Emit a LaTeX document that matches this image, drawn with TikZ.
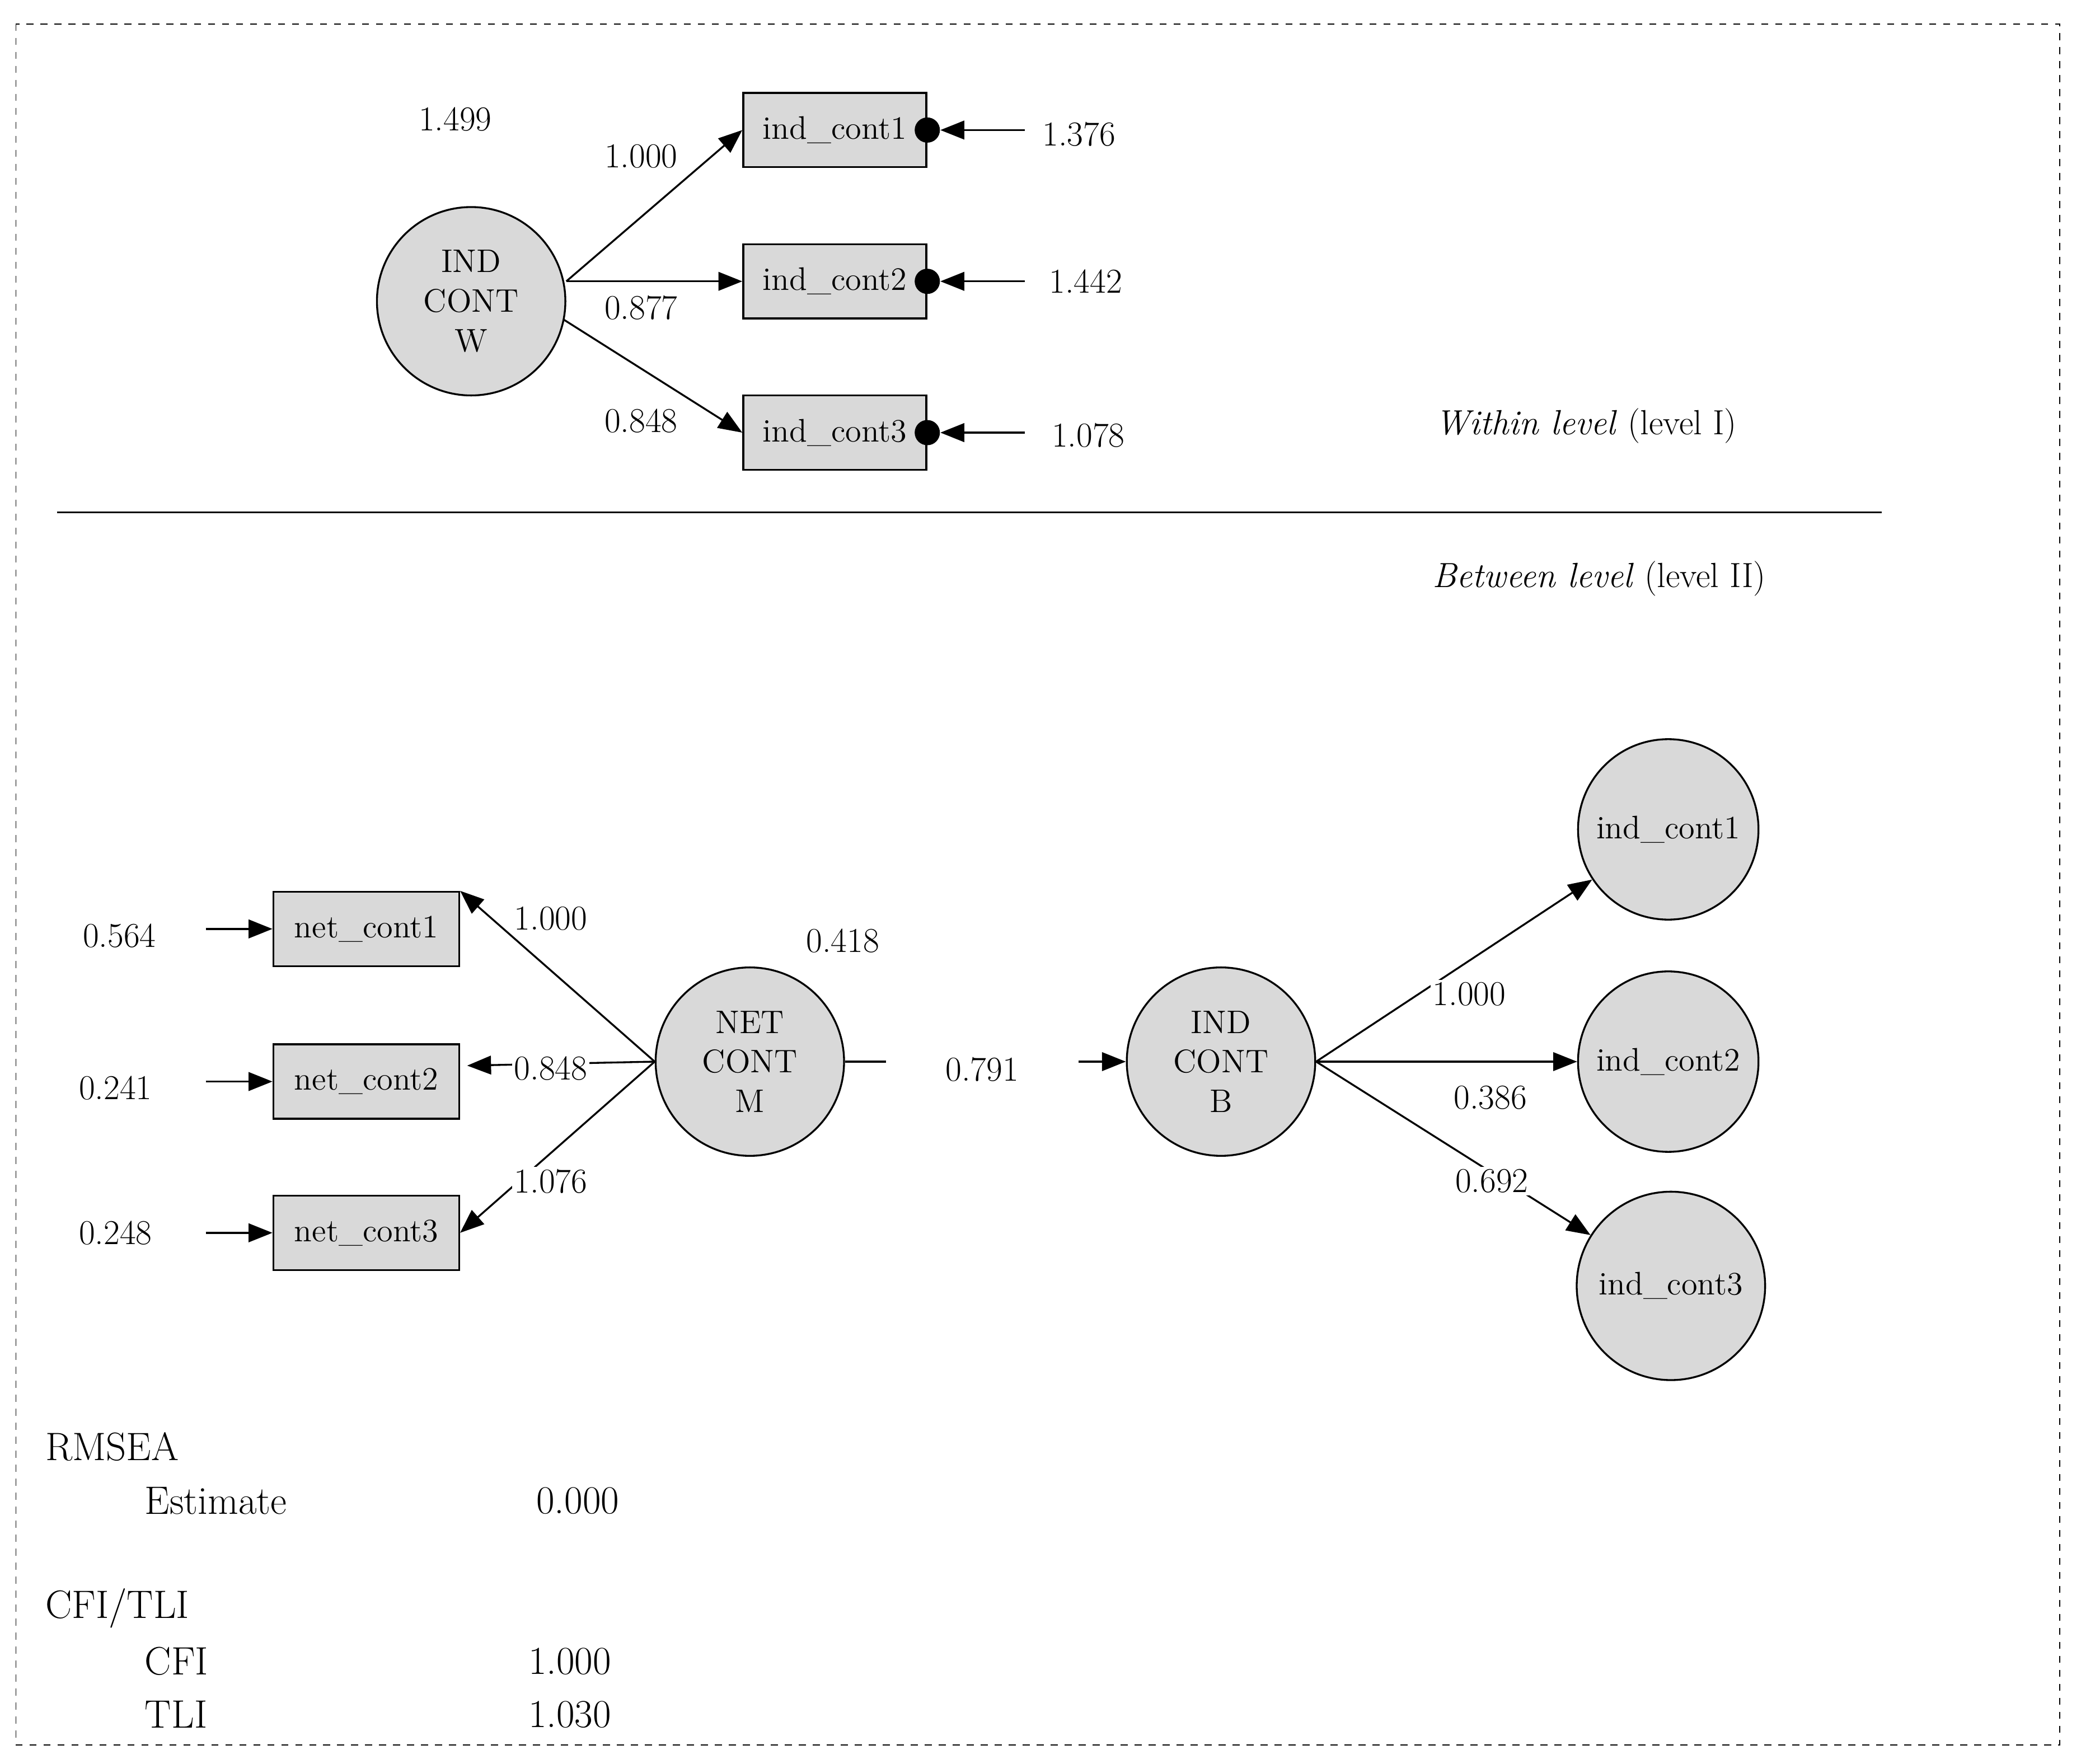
\documentclass[tikz,border=0pt]{standalone}
\usepackage{amsmath}
\usetikzlibrary{arrows.meta, positioning}
\definecolor{boxgray}{HTML}{D9D9D9}
\begin{document}
\begin{tikzpicture}[x=0.02cm,y=-0.02cm,
    lat/.style={draw,thick,circle,fill=boxgray,align=center,minimum size=2.84cm,inner sep=0pt,font=\fontsize{14}{17}\selectfont},
    obs/.style={draw,thick,rectangle,fill=boxgray,minimum width=2.76cm,minimum height=1.12cm,font=\fontsize{14}{17}\selectfont},
    dot/.style={fill,shape=circle,minimum size=0.38cm,inner sep=0pt},
    num/.style={font=\fontsize{15}{18}\selectfont},
    cut/.style={num,fill=white,inner sep=1pt},
    stat/.style={font=\fontsize{17}{20}\selectfont,anchor=west},
    arr/.style={thick,-{Triangle[length=0.36cm,width=0.28cm]}}]
    \useasboundingbox (0,0) rectangle (1568,1329);
    \draw[dashed] (12,18) rectangle (1552,1315);
    % within level
    \node (icw) [lat] at (355,227) {IND\\CONT\\W};
    \node (ic1) [obs] at (629,98) {ind\_cont1};
    \node (ic2) [obs] at (629,212) {ind\_cont2};
    \node (ic3) [obs] at (629,326) {ind\_cont3};
    \node (d1) [dot] at (ic1.east) {};
    \node (d2) [dot] at (ic2.east) {};
    \node (d3) [dot] at (ic3.east) {};
    \coordinate (e1) at (772,98);
    \coordinate (e2) at (772,212);
    \coordinate (e3) at (772,326);
    \draw[arr] (icw.east |- 0,212) -- (ic1.west);
    \draw[arr] (icw.east |- 0,212) -- (ic2.west);
    \draw[arr] (425,241) -- (ic3.west);
    \draw[arr] (e1) -- (d1);
    \draw[arr] (e2) -- (d2);
    \draw[arr] (e3) -- (d3);
    \node[num] at (343,90) {1.499};
    \node[num] at (483,118) {1.000};
    \node[num] at (483,232) {0.877};
    \node[num] at (483,317) {0.848};
    \node[num] at (813,101) {1.376};
    \node[num] at (818,212) {1.442};
    \node[num] at (820,328) {1.078};
    \node[num] at (1195,321) {\textit{Within level} (level I)};
    \coordinate (l1) at (43,386);
    \coordinate (l2) at (1418,386);
    \draw[thick] (l1) -- (l2);
    \node[num] at (1205,436) {\textit{Between level} (level II)};
    % between level
    \node (ncm) [lat] at (565,800) {NET\\CONT\\M};
    \node (icb) [lat] at (920,800) {IND\\CONT\\B};
    \node (nc1) [obs,minimum width=2.8cm] at (276,700) {net\_cont1};
    \node (nc2) [obs,minimum width=2.8cm] at (276,815) {net\_cont2};
    \node (nc3) [obs,minimum width=2.8cm] at (276,929) {net\_cont3};
    \node (bc1) [lat,minimum size=2.72cm] at (1257,625) {ind\_cont1};
    \node (bc2) [lat,minimum size=2.72cm] at (1257,800) {ind\_cont2};
    \node (bc3) [lat] at (1259,969) {ind\_cont3};
    \coordinate (f1) at (155,700);
    \coordinate (f2) at (155,815);
    \coordinate (f3) at (155,929);
    \draw[arr] (f1) -- (nc1);
    \draw[arr] (f2) -- (nc2);
    \draw[arr] (f3) -- (nc3);
    \draw[arr] (ncm.west) -- (nc1.north east);
    \draw[arr] (ncm.west) -- (352,803);
    \draw[arr] (ncm.west) -- (nc3.east);
    \draw[arr] (ncm) -- (icb);
    \draw[arr] (icb.east) -- (bc1);
    \draw[arr] (icb.east) -- (bc2);
    \draw[arr] (icb.east) -- (bc3);
    \node[num] at (90,705) {0.564};
    \node[num] at (87,820) {0.241};
    \node[num] at (87,929) {0.248};
    \node[cut] at (415,692) {1.000};
    \node[cut] at (415,805) {0.848};
    \node[cut] at (415,890) {1.076};
    \node[num] at (635,709) {0.418};
    \node[cut,inner xsep=0.9cm] at (740,806) {0.791};
    \node[cut] at (1107,749) {1.000};
    \node[num] at (1123,827) {0.386};
    \node[cut] at (1124,890) {0.692};
    % fit statistics
    \node[stat] at (28,1090) {RMSEA};
    \node[stat] at (103,1131) {Estimate};
    \node[stat] at (398,1131) {0.000};
    \node[stat] at (28,1212) {CFI/TLI};
    \node[stat] at (103,1252) {CFI};
    \node[stat] at (392,1252) {1.000};
    \node[stat] at (103,1292) {TLI};
    \node[stat] at (392,1292) {1.030};
\end{tikzpicture}
\end{document}
